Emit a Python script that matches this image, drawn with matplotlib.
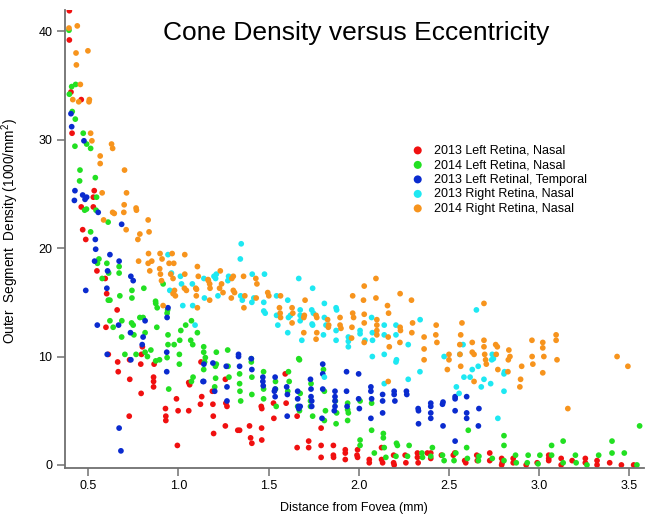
import matplotlib.pyplot as plt

plt.rcParams['font.family'] = ['Liberation Sans', 'DejaVu Sans']
plt.rcParams['mathtext.fontset'] = 'custom'
plt.rcParams['mathtext.rm'] = 'Liberation Sans'

# 2013 Left Retina, Nasal
red_x = [0.395, 0.395, 0.404, 0.461, 0.41, 0.533, 0.528, 0.461, 0.528, 0.469,
         0.486, 0.548, 0.594, 0.602, 0.66, 0.598, 0.611, 0.663, 0.666, 0.729,
         0.795, 0.8, 0.791, 0.73, 0.865, 0.862, 0.862, 0.862, 0.793, 0.928,
         0.93, 0.93, 0.727, 0.994, 0.998, 1.057, 0.989, 1.057, 1.062, 1.122,
         1.129, 1.125, 1.188, 1.191, 1.193, 1.195, 1.26, 1.263, 1.269, 1.26,
         1.329, 1.339, 1.394, 1.4, 1.407, 1.459, 1.462, 1.461, 1.462, 1.527,
         1.529, 1.592, 1.597, 1.658, 1.658, 1.722, 1.722, 1.791, 1.791, 1.791,
         1.859, 1.859, 1.86, 1.925, 1.925, 1.925, 1.993, 1.99, 1.993, 2.058,
         2.058, 2.126, 2.126, 2.132, 2.193, 2.193, 2.196, 2.257, 2.261, 2.325,
         2.325, 2.329, 2.38, 2.399, 2.399, 2.458, 2.532, 2.524, 2.587, 2.593,
         2.654, 2.657, 2.726, 2.726, 2.792, 2.795, 2.792, 2.856, 2.856, 2.928,
         2.989, 3.053, 3.053, 3.053, 3.122, 3.122, 3.183, 3.256, 3.256, 3.321,
         3.321, 3.391, 3.456, 3.524]
red_y = [41.9, 39.2, 34.4, 33.7, 30.6, 25.3, 24.7, 23.8, 23.8, 21.7,
         20.8, 17.9, 17.2, 15.8, 14.3, 12.7, 10.2, 9.5, 8.6, 9.7,
         10.2, 10.9, 9.3, 7.9, 9.3, 8.1, 7.7, 7.2, 6.6, 5.2,
         4.5, 4.1, 4.5, 1.8, 5.0, 5.0, 6.1, 7.6, 7.4, 5.6,
         6.3, 9.5, 6.8, 5.6, 4.5, 2.9, 7.9, 5.7, 5.4, 3.6,
         3.2, 3.2, 3.6, 2.5, 2.0, 5.4, 5.2, 3.4, 2.3, 5.7,
         4.3, 8.4, 5.7, 4.5, 1.6, 2.2, 1.6, 3.4, 1.8, 0.7,
         1.8, 0.9, 0.7, 1.4, 1.1, 0.5, 1.4, 0.9, 0.7, 0.5,
         0.2, 1.6, 0.5, 0.2, 0.9, 0.2, 0.0, 0.9, 0.2, 1.1,
         0.7, 0.2, 1.1, 1.1, 0.6, 0.9, 1.1, 0.9, 0.4, 0.2,
         0.9, 0.4, 1.1, 0.4, 0.6, 0.2, 0.0, 0.6, 0.2, 0.0,
         0.2, 0.9, 0.6, 0.4, 0.6, 0.0, 0.4, 0.6, 0.2, 0.4,
         0.0, 0.2, 0.0, 0.0]

# 2014 Left Retina, Nasal
green_x = [0.393, 0.43, 0.408, 0.395, 0.411, 0.428, 0.472, 0.426, 0.491, 0.513,
           0.454, 0.452, 0.539, 0.546, 0.48, 0.49, 0.543, 0.61, 0.513,
           0.559, 0.551, 0.603, 0.671, 0.671, 0.613, 0.577, 0.742, 0.742, 0.675,
           0.611, 0.62, 0.808, 0.873, 0.874, 0.882, 0.786, 0.804, 0.62, 0.686,
           0.638, 0.74, 0.749, 0.88, 0.685, 0.753, 0.815, 0.703, 0.765, 0.815,
           0.847, 0.828, 0.874, 0.895, 0.946, 0.942, 0.942, 0.937, 0.94, 0.937,
           0.915, 1.072, 1.04, 1.013, 1.105, 1.007, 1.068, 1.079, 0.976, 1.005,
           1.005, 1.14, 1.14, 1.149, 1.145, 1.14, 1.21, 1.273, 1.21, 1.205,
           1.275, 1.28, 1.081, 1.072, 1.206, 1.201, 1.339, 1.339, 1.341, 1.345,
           1.404, 1.404, 1.407, 1.407, 1.472, 1.472, 1.472, 1.538, 1.538, 1.542,
           1.61, 1.614, 1.606, 1.667, 1.661, 1.671, 1.804, 1.735, 1.732, 1.732,
           1.675, 1.671, 1.744, 1.809, 1.815, 1.809, 1.87, 1.877, 1.874, 1.938,
           1.938, 1.942, 1.938, 2.007, 2.071, 2.071, 2.007, 2.007, 2.136, 2.136,
           2.141, 2.086, 2.15, 2.209, 2.214, 2.279, 2.206, 2.27, 2.353, 2.35,
           2.408, 2.399, 2.464, 2.473, 2.538, 2.528, 2.598, 2.602, 2.666, 2.663,
           2.607, 2.805, 2.805, 2.74, 2.805, 2.869, 2.873, 2.939, 2.934, 3.004,
           2.994, 3.069, 3.133, 3.404, 3.472, 3.404, 3.557, 3.069, 3.133, 3.201,
           3.205, 3.265, 3.33, 3.542]
green_y = [40.1, 35.1, 34.9, 34.2, 32.6, 31.9, 30.6, 29.4, 29.6, 29.2,
           27.2, 26.2, 26.5, 24.7, 23.5, 23.6, 23.5, 22.4, 21.5,
           19.0, 18.6, 18.6, 18.3, 17.7, 17.7, 17.2, 16.1, 15.4, 15.6,
           15.2, 15.2, 16.3, 15.1, 14.9, 14.5, 13.6, 13.6, 13.3, 13.3,
           12.7, 13.1, 12.9, 12.7, 11.8, 12.0, 12.2, 10.2, 10.2, 10.4,
           10.6, 10.0, 9.6, 9.7, 7.0, 12.0, 11.1, 9.9, 14.3, 14.0,
           16.7, 13.3, 12.9, 12.4, 12.2, 11.5, 11.5, 11.1, 11.1, 10.2,
           9.3, 10.9, 10.4, 9.9, 9.5, 8.8, 10.4, 10.6, 9.3, 9.1,
           9.1, 8.1, 8.1, 7.7, 8.0, 7.2, 8.4, 7.5, 6.8, 5.9,
           9.8, 9.5, 8.1, 6.5, 8.6, 7.0, 6.1, 7.7, 7.0, 5.4,
           8.6, 7.7, 6.8, 9.8, 5.4, 9.7, 8.8, 7.5, 5.9, 5.4,
           6.6, 5.0, 4.5, 6.8, 5.0, 4.1, 5.9, 4.8, 3.8, 5.7,
           5.1, 4.8, 4.1, 5.9, 5.7, 3.2, 2.3, 1.8, 2.9, 2.5,
           1.6, 1.1, 0.7, 2.0, 1.8, 1.8, 0.8, 0.8, 0.7, 1.1,
           1.6, 0.8, 0.9, 0.4, 1.1, 0.4, 1.6, 0.6, 0.8, 0.4,
           3.2, 2.7, 1.8, 0.6, 0.4, 0.9, 0.2, 0.9, 0.2, 0.9,
           0.1, 1.8, 2.2, 2.2, 1.1, 1.1, 3.6, 0.9, 0.2, 0.9,
           0.2, 0.0, 0.9, 0.0]

# 2013 Left Retinal, Temporal
blue_x = [0.404, 0.408, 0.476, 0.426, 0.423, 0.469, 0.482, 0.491, 0.555, 0.685,
          0.539, 0.541, 0.62, 0.535, 0.671, 0.607, 0.736, 0.749, 0.603, 0.486,
          0.942, 0.937, 0.815, 0.55, 0.668, 0.734, 0.804, 0.799, 0.605, 0.736,
          0.935, 0.935, 0.671, 0.681, 1.136, 1.191, 1.141, 1.14, 1.265, 1.269,
          1.269, 1.201, 1.333, 1.333, 1.339, 1.404, 1.407, 1.468, 1.468, 1.47,
          1.536, 1.536, 1.532, 1.536, 1.6, 1.604, 1.603, 1.661, 1.661, 1.665,
          1.8, 1.8, 1.732, 1.735, 1.735, 1.739, 1.739, 1.675, 1.667, 1.8,
          1.796, 1.868, 1.868, 1.868, 1.868, 1.864, 1.932, 1.932, 1.935, 1.999,
          1.999, 2.003, 2.067, 2.067, 2.071, 2.067, 2.132, 2.132, 2.132, 2.196,
          2.196, 2.2, 2.264, 2.266, 2.329, 2.331, 2.331, 2.399, 2.399, 2.399,
          2.399, 2.467, 2.464, 2.467, 2.534, 2.534, 2.534, 2.534, 2.598, 2.598,
          2.598, 2.666, 2.663]
blue_y = [32.4, 31.2, 29.9, 25.3, 24.4, 24.9, 24.5, 24.7, 23.3, 22.2,
          20.8, 19.9, 19.4, 18.8, 18.8, 17.9, 17.4, 17.0, 16.3, 16.1,
          14.5, 13.6, 13.3, 12.9, 12.9, 12.2, 11.8, 11.1, 10.2, 9.7,
          10.4, 8.6, 3.4, 1.3, 7.7, 9.4, 9.3, 7.7, 9.1, 7.2,
          5.9, 6.8, 10.2, 10.0, 9.1, 9.8, 8.8, 8.1, 7.7, 7.3,
          8.1, 7.0, 6.8, 6.3, 7.2, 6.5, 4.5, 6.8, 6.1, 5.4,
          9.3, 8.4, 7.9, 7.0, 6.3, 5.9, 5.4, 5.4, 5.2, 7.0,
          4.3, 6.8, 6.3, 5.9, 5.4, 5.0, 8.6, 6.8, 5.4, 8.4,
          6.1, 5.2, 7.2, 6.8, 6.1, 4.3, 6.5, 5.9, 4.8, 6.8,
          6.5, 5.9, 6.8, 6.5, 5.2, 5.0, 3.8, 5.7, 5.4, 4.8,
          4.3, 5.8, 5.6, 3.6, 6.3, 6.1, 5.0, 2.2, 6.3, 4.8,
          4.3, 5.2, 3.6]

# 2013 Right Retina, Nasal
cyan_x = [0.942, 0.961, 1.011, 1.017, 1.077, 1.141, 1.197, 0.952, 1.024, 1.079,
          1.144, 1.092, 1.348, 1.343, 1.21, 1.206, 1.278, 1.274, 1.409, 1.477,
          1.219, 1.345, 1.418, 1.407, 1.354, 1.473, 1.473, 1.481, 1.544, 1.544,
          1.551, 1.606, 1.61, 1.621, 1.606, 1.667, 1.744, 1.809, 1.675, 1.675,
          1.675, 1.739, 1.748, 1.741, 1.744, 1.684, 1.809, 1.818, 1.804, 1.874,
          1.877, 1.874, 1.874, 1.942, 1.942, 1.942, 2.007, 2.007, 2.034, 2.071,
          2.075, 2.076, 2.075, 2.141, 2.141, 2.141, 2.206, 2.206, 2.209, 2.206,
          2.274, 2.274, 2.34, 2.339, 2.141, 1.809, 2.652, 2.473, 2.578, 2.56,
          2.74, 2.746, 2.737, 2.629, 2.662, 2.617, 2.583, 2.694, 2.679, 2.731,
          2.808, 2.805, 2.541, 2.556, 2.805, 2.771]
cyan_y = [19.4, 17.7, 17.4, 16.7, 16.7, 17.2, 17.4, 16.1, 14.7, 14.7,
          15.4, 12.9, 20.4, 19.0, 17.6, 17.2, 17.4, 17.0, 17.6, 17.6,
          15.6, 15.6, 15.4, 15.0, 15.2, 15.0, 14.2, 14.0, 15.6, 13.8,
          12.9, 15.2, 13.6, 13.8, 12.2, 17.2, 16.3, 14.9, 14.3, 13.8,
          13.3, 14.3, 14.0, 13.0, 12.9, 11.5, 13.6, 12.9, 12.0, 14.5,
          14.3, 12.4, 11.5, 11.8, 11.4, 10.9, 12.4, 12.1, 11.5, 13.6,
          12.2, 11.5, 10.0, 12.9, 12.0, 10.2, 12.9, 12.0, 9.7, 9.5,
          11.1, 7.9, 13.4, 8.6, 7.5, 8.1, 14.3, 10.0, 11.1, 10.2,
          10.2, 9.8, 9.7, 8.8, 9.1, 8.1, 8.1, 7.9, 7.2, 7.5,
          8.6, 8.4, 7.2, 6.6, 6.8, 4.3]

# 2014 Right Retina, Nasal
orange_x = [0.393, 0.439, 0.432, 0.498, 0.434, 0.456, 0.414, 0.447, 0.506, 0.504,
            0.513, 0.52, 0.629, 0.635, 0.566, 0.566, 0.701, 0.577, 0.712, 0.699,
            0.765, 0.767, 0.635, 0.644, 0.697, 0.585, 0.832, 0.71, 0.786, 0.837,
            0.775, 0.834, 0.898, 1.035, 0.909, 0.779, 0.852, 0.832, 0.948, 0.841,
            0.896, 0.9, 0.97, 0.906, 0.978, 0.97, 0.983, 1.033, 1.044, 1.105,
            1.11, 1.1, 1.173, 1.166, 1.173, 1.105, 0.915, 0.965, 0.974, 0.957,
            1.035, 1.164, 1.175, 1.232, 1.239, 1.228, 1.304, 1.296, 1.361, 1.429,
            1.435, 1.096, 1.099, 1.247, 1.293, 1.304, 1.311, 1.368, 1.363, 1.431,
            1.495, 1.501, 1.566, 1.56, 1.564, 1.566, 1.63, 1.634, 1.63,
            2.095, 2.03, 1.966, 2.026, 2.095, 1.702, 1.698, 1.695, 1.763, 1.767,
            1.827, 1.833, 1.831, 1.695, 1.767, 1.763, 1.896, 1.896, 1.901, 1.966,
            1.971, 1.962, 1.96, 2.03, 2.03, 2.03, 2.1, 2.1, 2.1, 2.1,
            2.159, 2.165, 2.163, 2.169, 2.229, 2.229, 2.231, 2.228, 2.292, 2.298,
            2.294, 2.362, 2.362, 2.362, 2.163, 2.694, 2.429, 2.427, 2.433, 2.572,
            2.565, 2.56, 2.561, 2.565, 2.629, 2.629, 2.639, 2.639, 2.694, 2.694,
            2.698, 2.703, 2.707, 2.759, 2.768, 2.762, 2.771, 2.832, 2.838, 2.829,
            2.827, 2.903, 2.897, 2.893, 2.96, 2.961, 2.965, 2.5, 2.5, 2.491,
            3.02, 3.02, 3.02, 3.026, 3.094, 3.094, 3.099, 3.159, 3.432, 3.492]
orange_y = [40.3, 40.5, 38.0, 38.2, 36.9, 35.1, 33.7, 33.5, 33.7, 33.5,
            30.6, 29.9, 29.6, 29.2, 28.5, 27.8, 27.2, 25.1, 25.1, 24.0,
            23.7, 23.5, 23.3, 23.2, 23.3, 22.6, 22.6, 21.7, 21.3, 21.5,
            20.8, 19.5, 19.5, 19.4, 19.0, 18.8, 18.8, 18.6, 18.6, 17.9,
            18.1, 17.6, 17.2, 17.0, 16.1, 15.8, 15.6, 16.3, 16.1, 18.3,
            17.4, 16.2, 15.2, 17.0, 16.7, 14.5, 14.7, 19.5, 18.6, 17.6,
            17.6, 17.1, 16.3, 17.9, 16.7, 16.3, 17.4, 17.2, 17.4, 17.2,
            16.7, 16.3, 15.6, 15.9, 15.4, 16.1, 15.9, 15.6, 14.5, 15.4,
            15.9, 15.6, 15.6, 14.5, 14.0, 13.6, 14.5, 14.0, 13.1,
            17.2, 16.5, 15.6, 15.2, 15.4, 15.2, 13.8, 13.6, 13.8, 13.6,
            13.4, 12.9, 12.7, 12.2, 12.2, 11.6, 13.6, 12.9, 12.6, 14.0,
            13.6, 12.7, 11.7, 13.9, 13.1, 11.3, 13.4, 12.9, 12.4, 12.0,
            14.7, 14.0, 11.8, 10.9, 15.8, 12.7, 12.4, 11.3, 15.2, 13.1,
            12.2, 11.8, 10.7, 9.7, 7.7, 14.9, 12.9, 12.0, 11.3, 13.1,
            12.0, 11.1, 10.2, 9.1, 11.3, 10.4, 10.2, 7.7, 11.5, 10.9,
            10.2, 9.7, 9.3, 11.1, 10.9, 10.2, 8.8, 10.6, 10.0, 9.7,
            8.6, 9.1, 7.9, 7.2, 11.5, 10.0, 9.3, 10.2, 9.7, 8.8,
            11.3, 10.8, 8.5, 10.0, 12.0, 11.5, 9.7, 5.2, 10.0, 9.1]

series = [
    (red_x, red_y, '#f01010', '2013 Left Retina, Nasal'),
    (green_x, green_y, '#22e022', '2014 Left Retina, Nasal'),
    (blue_x, blue_y, '#0a2bcf', '2013 Left Retinal, Temporal'),
    (cyan_x, cyan_y, '#1ee8f2', '2013 Right Retina, Nasal'),
    (orange_x, orange_y, '#f7941d', '2014 Right Retina, Nasal'),
]

fig = plt.figure(figsize=(6.45, 5.15), dpi=100)
ax = fig.add_axes([0.1008, 0.0913, 0.897, 0.89])

for xs, ys, c, lab in series:
    ax.scatter(xs, ys, s=17, color=c, edgecolors='none', label=lab)

ax.set_xlim(0.371, 3.579)
ax.set_ylim(-0.28, 42.0)
ax.set_xticks([0.5, 1.0, 1.5, 2.0, 2.5, 3.0, 3.5])
ax.set_yticks([0, 10, 20, 30, 40])

for side in ['top', 'right']:
    ax.spines[side].set_visible(False)
for side in ['left', 'bottom']:
    ax.spines[side].set_color('#707070')
    ax.spines[side].set_linewidth(1.3)
ax.tick_params(direction='out', length=6, width=1.1, color='#707070',
               labelsize=9, pad=3)

ax.set_xlabel('Distance from Fovea (mm)', fontsize=9)
ax.set_ylabel('Outer  Segment  Density (1000/mm$^2$)', fontsize=9.8)
ax.xaxis.set_label_coords(0.5, -0.075)
ax.yaxis.set_label_coords(-0.076, 0.517)

ax.text(0.503, 0.948, 'Cone Density versus Eccentricity', transform=ax.transAxes,
        ha='center', va='center', fontsize=19)

ax.legend(loc='upper left', bbox_to_anchor=(0.588, 0.719), frameon=False,
          fontsize=9, markerscale=1.4, handlelength=1.0, handletextpad=0.8,
          labelspacing=0.2, borderpad=0)

fig.savefig('out.png', dpi=100)
